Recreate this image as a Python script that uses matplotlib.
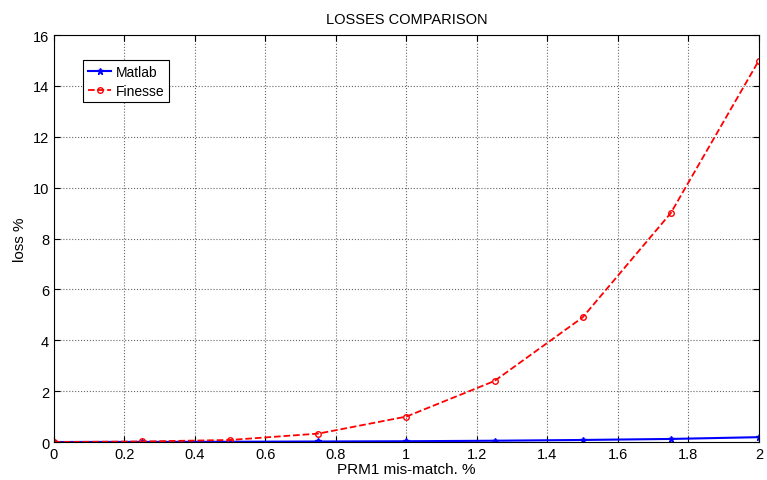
import numpy as np
import matplotlib
matplotlib.use("Agg")
import matplotlib.pyplot as plt

plt.rcParams['font.family'] = ['Liberation Sans', 'DejaVu Sans']

mismatch = [0, 0.25, 0.5, 0.75, 1.0, 1.25, 1.5, 1.75, 2.0]
loss_matlab = [0.0, 0.005, 0.01, 0.02, 0.03, 0.05, 0.08, 0.12, 0.19]
loss_finesse = [0.0, 0.02, 0.08, 0.33, 1.0, 2.4, 4.9, 9.0, 15.0]

fig = plt.figure(figsize=(7.67, 4.81), dpi=100)
ax = fig.add_axes([0.0704, 0.079, 0.919, 0.846])

ax.plot(mismatch, loss_matlab, '-', color='#0000ff', marker='*', markersize=5,
        linewidth=1.5, label='Matlab')
ax.plot(mismatch, loss_finesse, '--', color='#ff0000', marker='o', markersize=4,
        markerfacecolor='none', linewidth=1.3, label='Finesse')

ax.set_xlim(0, 2)
ax.set_ylim(0, 16)
ax.set_xticks(np.arange(0, 2.01, 0.2))
ax.set_xticklabels(['0', '0.2', '0.4', '0.6', '0.8', '1', '1.2', '1.4', '1.6', '1.8', '2'])
ax.set_yticks(np.arange(0, 17, 2))
ax.tick_params(direction='in', labelsize=10.5, top=True, right=True, length=4)
ax.grid(True, linestyle=':', color='#666666', linewidth=0.8)

ax.set_title('LOSSES COMPARISON', fontsize=10.5, pad=9)
ax.set_xlabel('PRM1 mis-match. %', fontsize=11, labelpad=1)
ax.set_ylabel('loss %', fontsize=11)

leg = ax.legend(loc='upper left', bbox_to_anchor=(0.041, 0.939), borderaxespad=0,
                fontsize=10, fancybox=False, framealpha=1, edgecolor='black',
                handlelength=1.7, handletextpad=0.3, borderpad=0.35,
                labelspacing=0.35)
leg.get_frame().set_linewidth(0.8)

fig.savefig('out.png', dpi=100)
